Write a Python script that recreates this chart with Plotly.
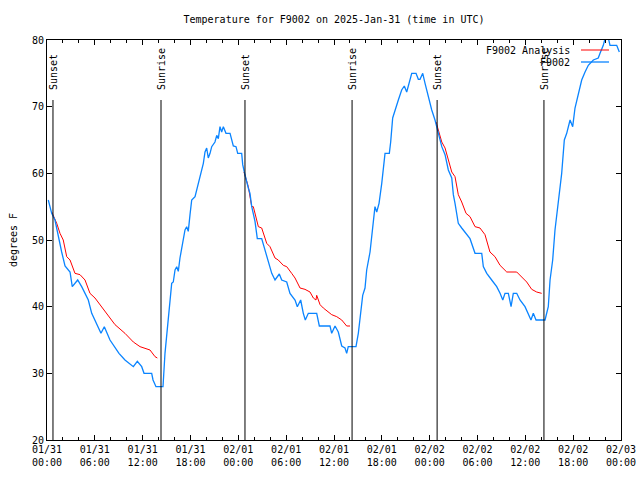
import pandas as pd
import plotly.graph_objects as go

# ---- data (hours since 2025-01-31 00:00 UTC, degrees F) ----
obs_hours = [0.16, 0.59, 1.00, 1.42, 1.84, 2.26, 2.89, 3.17, 3.85, 4.35, 4.77, 5.18, 5.61, 6.02,
             6.77, 7.19, 7.90, 9.03, 9.78, 10.83, 11.33, 11.88, 12.17, 13.13, 13.30, 13.67, 14.30,
             14.55, 14.80, 15.22, 15.43, 15.64, 15.84, 16.06, 16.27, 16.47, 16.68, 16.90, 17.10,
             17.31, 17.52, 17.72, 17.94, 18.15, 18.57, 18.78, 18.98, 19.19, 19.41, 19.61, 19.82,
             20.03, 20.23, 20.45, 20.66, 21.07, 21.29, 21.49, 21.70, 21.91, 22.12, 22.45, 22.96,
             23.17, 23.37, 23.71, 23.92, 24.42, 24.55, 24.75, 25.05, 25.25, 25.46, 25.68, 26.09,
             26.38, 26.93, 27.35, 27.76, 28.19, 28.60, 29.14, 29.44, 30.07, 30.48, 31.11, 31.40,
             31.82, 32.15, 32.40, 32.78, 33.83, 34.16, 35.50, 35.71, 36.13, 36.54, 36.97, 37.38,
             37.59, 37.79, 38.76, 39.05, 39.35, 39.60, 39.89, 40.10, 40.52, 40.73, 40.93, 41.14,
             41.36, 41.65, 41.99, 42.19, 42.40, 42.94, 43.11, 43.36, 43.65, 44.07, 44.49, 44.82,
             45.12, 45.45, 45.75, 46.29, 46.58, 46.79, 47.13, 47.42, 47.83, 48.26, 48.67, 49.09,
             49.52, 49.93, 50.34, 50.77, 50.97, 51.18, 51.59, 52.02, 52.43, 53.06, 53.69, 54.53,
             54.73, 55.16, 55.78, 56.41, 56.83, 57.17, 57.45, 57.87, 58.21, 58.49, 58.92, 59.33,
             59.96, 60.38, 60.71, 61.00, 61.34, 62.47, 62.88, 63.10, 63.43, 63.72, 64.14, 64.56,
             64.89, 65.19, 65.61, 65.94, 66.23, 66.64, 67.07, 67.49, 67.90, 68.53, 69.15, 69.37,
             69.78, 69.99, 70.41, 70.62, 71.46, 71.79]
obs_temp = [56, 54, 53, 50.3, 48.2, 46.1, 45.2, 43, 44, 43, 42, 41, 39, 38,
            36, 37, 35, 33, 32, 31, 31.8, 31, 30, 30, 29, 28, 28,
            28, 33, 38, 40.7, 43.5, 43.7, 45.5, 46, 45.3, 47.3, 49, 50,
            51.5, 52, 51.3, 53.8, 56, 56.5, 57.5, 58.3, 59.3, 60.2, 61.5, 63.2,
            63.8, 62.3, 63, 64, 64.7, 65.7, 65.2, 67, 66.2, 67, 66, 66,
            65, 64.1, 64, 63, 63, 61.3, 60.2, 58.5, 57.8, 57, 55, 52.8,
            50.2, 50.2, 48.5, 46.5, 45, 44, 44.9, 44, 43.7, 42, 41, 40,
            41, 39, 38, 39, 39, 37.1, 37.1, 36, 37.1, 36.2, 34.1, 33.8,
            33, 34, 34, 36, 39.5, 41.7, 42.8, 45.5, 48.2, 50.3, 52, 55,
            54.2, 55.5, 58.5, 61, 63, 63, 64.7, 68.3, 69.5, 71, 72.5, 73.1,
            72.2, 73.5, 75, 75, 74.1, 74.1, 75, 73.5, 71.5, 69.5, 68, 65.8,
            64, 62.8, 60.5, 59.3, 56.8, 55.5, 52.5, 51.8, 51.2, 50.2, 48, 48,
            46, 45, 44, 43, 42, 41, 42, 42, 40, 42, 42, 41,
            40, 39, 38, 39, 38, 38, 40, 44, 47, 51.5, 55.5, 60,
            65, 66, 68, 67, 69.8, 72, 74, 75.2, 76.2, 77, 77.3, 78,
            79.2, 80.2, 80.3, 79.2, 79.2, 78.2]

ana_hours_1 = [0.59, 1.22, 1.63, 2.04, 2.47, 2.89, 3.51, 4.14, 4.77, 5.39, 6.02, 6.65, 7.49,
               8.53, 9.78, 10.83, 11.67, 12.92, 13.55, 13.84]
ana_temp_1 = [54.2, 52.5, 51, 50, 47.5, 47, 45, 44.8, 44, 42, 41.3, 40.3, 39,
              37.3, 36, 34.7, 34, 33.5, 32.5, 32.3]
ana_hours_2 = [24.71, 25.25, 25.68, 25.88, 26.51, 26.93, 27.56, 27.97, 28.60, 29.01, 29.64,
               30.07, 30.69, 31.11, 31.74, 32.36, 32.99, 33.41, 33.74, 33.83, 34.25, 34.66,
               35.71, 36.34, 36.97, 37.59, 38.01]
ana_temp_2 = [60.2, 58, 55, 55, 52, 51.8, 49.5, 49, 47.3, 47, 46.2,
              46, 45, 44.3, 42.8, 42.6, 42.2, 41.3, 41, 41.7, 40.3, 39.8,
              38.8, 38.5, 38, 37.1, 37.1]
ana_hours_3 = [48.80, 49.09, 49.52, 49.93, 50.34, 50.77, 51.18, 51.59, 52.02, 52.56, 53.06,
               53.69, 54.31, 54.94, 55.56, 56.19, 56.83, 57.67, 58.92, 59.75, 60.17, 60.80,
               61.42, 62.05]
ana_temp_3 = [67.7, 66.5, 64.7, 63.8, 62, 60.2, 59.5, 56.8, 55.7, 54, 53.5,
              52, 51.8, 50.8, 48.2, 47.5, 46.2, 45.2, 45.2, 44.3, 43.7, 42.6,
              42.2, 42]

sun_times = ["2025-01-31 00:45", "2025-01-31 14:18", "2025-02-01 00:50",
             "2025-02-01 14:16", "2025-02-02 00:56", "2025-02-02 14:20"]
sun_labels = ["Sunset", "Sunrise", "Sunset", "Sunrise", "Sunset", "Sunrise"]

series_names = ["F9002 Analysis", "F9002"]
colors = ["#ff0000", "#0a84ff"]

# ---- build ----
start = pd.Timestamp("2025-01-31 00:00")
def to_time(hours):
    return [start + pd.Timedelta(hours=h) for h in hours]

ana_x = to_time(ana_hours_1) + [None] + to_time(ana_hours_2) + [None] + to_time(ana_hours_3)
ana_y = ana_temp_1 + [None] + ana_temp_2 + [None] + ana_temp_3

FONT = "DejaVu Sans Mono"
fig = go.Figure()
fig.add_trace(go.Scatter(x=ana_x, y=ana_y, mode="lines", name=series_names[0],
                         line=dict(color=colors[0], width=1), connectgaps=False,
                         showlegend=False))
fig.add_trace(go.Scatter(x=to_time(obs_hours), y=obs_temp, mode="lines", name=series_names[1],
                         line=dict(color=colors[1], width=1.3), showlegend=False))

for t, lab in zip(sun_times, sun_labels):
    fig.add_shape(type="line", xref="x", yref="y domain", x0=t, x1=t, y0=0, y1=0.85,
                  line=dict(color="black", width=1))
    fig.add_annotation(x=t, xref="x", yref="y domain", y=0.87, text=lab, textangle=-90,
                       showarrow=False, xanchor="center", yanchor="bottom",
                       font=dict(family=FONT, size=10, color="black"))

# gnuplot-style key: text right-aligned, sample line to its right
key_y = [0.975, 0.945]
for name, col, ky in zip(series_names, colors, key_y):
    fig.add_annotation(x=(572 - 47) / 574, y=ky, xref="paper", yref="paper", text=name,
                       showarrow=False, xanchor="right", yanchor="middle",
                       font=dict(family=FONT, size=10, color="black"))
    fig.add_shape(type="line", xref="paper", yref="paper",
                  x0=(581 - 47) / 574, x1=(609 - 47) / 574, y0=ky, y1=ky,
                  line=dict(color=col, width=1.3 if col == colors[1] else 1))

fig.update_layout(
    width=640, height=480,
    margin=dict(l=47, r=19, t=40, b=40),
    paper_bgcolor="white", plot_bgcolor="white",
    font=dict(family=FONT, size=10, color="black"),
    title=dict(text="Temperature for F9002 on 2025-Jan-31 (time in UTC)",
               x=(47 + 621) / 2 / 640, xanchor="center", y=1 - 19 / 480, yanchor="middle",
               yref="container", font=dict(family=FONT, size=10, color="black")),
)
fig.update_xaxes(
    type="date", range=["2025-01-31 00:00", "2025-02-03 00:00"], automargin=False,
    tick0="2025-01-31 00:00", dtick=6 * 3600 * 1000, tickformat="%m/%d<br>%H:%M",
    ticks="inside", ticklen=5, tickcolor="black", mirror="ticks",
    showline=True, linecolor="black", linewidth=1, showgrid=False, zeroline=False,
    minor=dict(dtick=2 * 3600 * 1000, ticks="inside", ticklen=3, tickcolor="black", showgrid=False),
    tickfont=dict(family=FONT, size=10, color="black"),
)
fig.update_yaxes(
    range=[20, 80], dtick=10, ticks="inside", ticklen=5, tickcolor="black", mirror="ticks",
    showline=True, linecolor="black", linewidth=1, showgrid=False, zeroline=False,
    automargin=False,
    title=dict(text="degrees F", standoff=12, font=dict(family=FONT, size=10, color="black")),
    tickfont=dict(family=FONT, size=10, color="black"),
)

fig.write_html("out.html")
